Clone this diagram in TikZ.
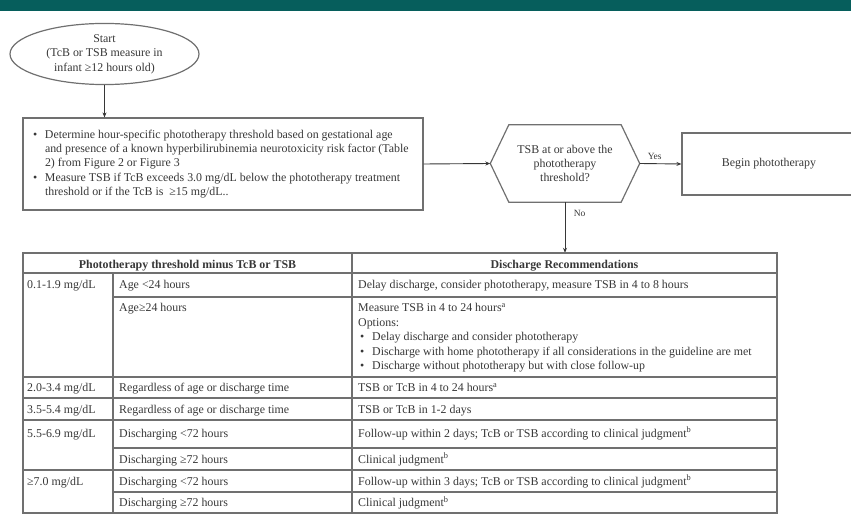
\documentclass[tikz,border=0pt]{standalone}
\usepackage{fontspec}
\setmainfont{Liberation Serif}
\usetikzlibrary{arrows.meta,shapes.geometric}

\definecolor{bannerteal}{RGB}{6,94,92}
\definecolor{inkgray}{RGB}{55,55,55}
\definecolor{rulegray}{RGB}{112,112,112}

\tikzset{
  body/.style={font=\fontsize{11.9}{14.4}\selectfont, text=inkgray},
  startoval/.style={ellipse, draw=rulegray, line width=1.2pt, minimum width=189pt,
    minimum height=58pt, inner sep=0pt, body},
  stepbox/.style={draw=rulegray, line width=1.2pt, inner sep=0pt, body},
  flow/.style={draw=inkgray, line width=0.9pt, -{Stealth[length=5pt,width=4pt]}},
  branch/.style={font=\fontsize{9.5}{11}\selectfont, text=inkgray},
  grid/.style={draw=rulegray, line width=1.4pt},
  cell/.style={body, inner sep=0pt, anchor=base west},
  headcell/.style={body, font=\fontsize{11.9}{14.4}\selectfont\bfseries, inner sep=0pt,
    text height=12pt, text depth=0pt}
}

\begin{document}
\begin{tikzpicture}[x=1pt, y=-1pt]
\useasboundingbox (0,0) rectangle (851,518);

% title band
\fill[bannerteal] (0,0) rectangle (851,11);

% start of the pathway
\node[startoval] (start) at (104.5,54) {\raisebox{2pt}{\begin{tabular}{@{}c@{}}Start\\(TcB or TSB measure in\\infant ≥12 hours old)\end{tabular}}};

% threshold step
\node[stepbox, minimum width=400pt, minimum height=92pt] (plan) at (223,164) {%
\raisebox{-2pt}{\begin{minipage}{380pt}%
\begin{tabular}{@{}l@{}}
\makebox[12pt][l]{•}Determine hour-specific phototherapy threshold based on gestational age\\
\hspace*{12pt}and presence of a known hyperbilirubinemia neurotoxicity risk factor (Table\\
\hspace*{12pt}2) from Figure 2 or Figure 3\\
\makebox[12pt][l]{•}Measure TSB if TcB exceeds 3.0 mg/dL below the phototherapy treatment\\
\hspace*{12pt}threshold or if the TcB is \ ≥15 mg/dL..
\end{tabular}%
\end{minipage}}};

% decision
\node[body, inner sep=0pt, minimum width=149pt, minimum height=77pt, align=center]
  (check) at (565,163.5) {TSB at or above the\\phototherapy\\threshold?};
\draw[rulegray, line width=1.2pt]
  (check.west) -- ([xshift=18.5pt]check.north west) -- ([xshift=-18.5pt]check.north east)
  -- (check.east) -- ([xshift=-18.5pt]check.south east) -- ([xshift=18.5pt]check.south west)
  -- cycle;

% outcome
\node[stepbox, minimum width=174pt, minimum height=62pt] (begin) at (769,164) {Begin phototherapy};

% table header cells
\node[headcell, minimum width=329pt, minimum height=20pt] (hdrA) at (187.5,263)
  {Phototherapy threshold minus TcB or TSB};
\node[headcell, minimum width=425pt, minimum height=20pt] (hdrB) at (564.5,263)
  {Discharge Recommendations};

% connectors
\draw[flow] (start.south) -- (start.south |- plan.north);
\draw[flow] (plan.east) -- (check.west);
\draw[flow] (check.east) -- node[branch, above, pos=0.36] (yes) {Yes} (begin.west);
\draw[flow] (check.south) -- node[branch, right=5pt, pos=0.22] (no) {No} (check.south |- hdrB.north);

% table rules
\draw[grid] (23,253) rectangle (777,513);
\foreach \yy in {273,377,398,420,470} \draw[grid] (23,\yy) -- (777,\yy);
\foreach \yy in {297,448,492} \draw[grid] (113,\yy) -- (777,\yy);
\draw[grid] (113,273) -- (113,513);
\draw[grid] (352,253) -- (352,513);

% row 0.1-1.9
\node[cell] (ra1) at (27,289) {0.1-1.9 mg/dL};
\node[cell] (ra2) at (119,289) {Age <24 hours};
\node[cell] (ra3) at (358,289) {Delay discharge, consider phototherapy, measure TSB in 4 to 8 hours};
\node[cell] (rb2) at (119,312) {Age≥24 hours};
\node[cell] (rb3) at (358,312) {%
\begin{tabular}[t]{@{}l@{}}
Measure TSB in 4 to 24 hours\textsuperscript{a}\\
Options:\\
\makebox[14pt][l]{\hspace{2pt}•}Delay discharge and consider phototherapy\\
\makebox[14pt][l]{\hspace{2pt}•}Discharge with home phototherapy if all considerations in the guideline are met\\
\makebox[14pt][l]{\hspace{2pt}•}Discharge without phototherapy but with close follow-up
\end{tabular}};

% row 2.0-3.4
\node[cell] (rc1) at (27,391.5) {2.0-3.4 mg/dL};
\node[cell] (rc2) at (119,391.5) {Regardless of age or discharge time};
\node[cell] (rc3) at (358,391.5) {TSB or TcB in 4 to 24 hours\textsuperscript{a}};

% row 3.5-5.4
\node[cell] (rd1) at (27,413) {3.5-5.4 mg/dL};
\node[cell] (rd2) at (119,413) {Regardless of age or discharge time};
\node[cell] (rd3) at (358,413) {TSB or TcB in 1-2 days};

% row 5.5-6.9
\node[cell] (re1) at (27,437) {5.5-6.9 mg/dL};
\node[cell] (re2) at (119,437) {Discharging <72 hours};
\node[cell] (re3) at (358,437) {Follow-up within 2 days; TcB or TSB according to clinical judgment\textsuperscript{b}};
\node[cell] (rf2) at (119,463) {Discharging ≥72 hours};
\node[cell] (rf3) at (358,463) {Clinical judgment\textsuperscript{b}};

% row >=7.0
\node[cell] (rg1) at (27,485) {≥7.0 mg/dL};
\node[cell] (rg2) at (119,485) {Discharging <72 hours};
\node[cell] (rg3) at (358,485) {Follow-up within 3 days; TcB or TSB according to clinical judgment\textsuperscript{b}};
\node[cell] (rh2) at (119,506.5) {Discharging ≥72 hours};
\node[cell] (rh3) at (358,506.5) {Clinical judgment\textsuperscript{b}};
\end{tikzpicture}
\end{document}
